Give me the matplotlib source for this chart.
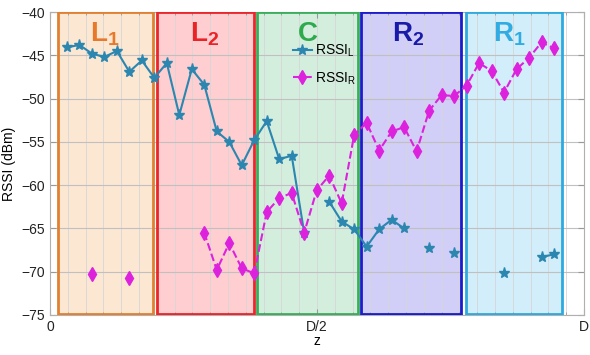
import numpy as np
import matplotlib
matplotlib.use("Agg")
import matplotlib.pyplot as plt
from matplotlib.patches import Rectangle
from matplotlib.ticker import MultipleLocator

plt.rcParams['font.family'] = ['Liberation Sans', 'DejaVu Sans']
plt.rcParams['mathtext.fontset'] = 'custom'
plt.rcParams['mathtext.rm'] = 'Liberation Sans'
plt.rcParams['mathtext.it'] = 'Liberation Sans:italic'
plt.rcParams['mathtext.bf'] = 'Liberation Sans:bold'

nan = np.nan

# Corridor length and sampling positions along z
D = 42.75
z = 1.35 + np.arange(40)

# Received signal strength from the left and right anchors (dBm)
rssi_left = [-44.1, -43.8, -44.8, -45.2, -44.5, -46.9, -45.6, -47.6, -45.9, -51.9,
             -46.6, -48.4, -53.8, -55.0, -57.7, -54.8, -52.6, -57.0, -56.6, -65.5,
             nan, -61.9, -64.2, -65.1, -67.1, -65.1, -64.0, -65.0, nan, -67.3,
             nan, -67.8, nan, nan, nan, -70.1, nan, nan, -68.3, -68.0]
rssi_right = [nan, nan, -70.3, nan, nan, -70.7, nan, nan, nan, nan,
              nan, -65.5, -69.8, -66.7, -69.6, -70.2, -63.1, -61.5, -60.9, -65.5,
              -60.6, -58.9, -62.1, -54.2, -52.8, -56.0, -53.8, -53.3, -56.1, -51.4,
              -49.6, -49.7, -48.5, -45.9, -46.8, -49.3, -46.6, -45.3, -43.5, -44.2]

# Zones: name, z-start, z-end, fill, edge, label colour, label position
zone_names = [r'$\mathbf{L_1}$', r'$\mathbf{L_2}$', r'$\mathbf{C}$', r'$\mathbf{R_2}$', r'$\mathbf{R_1}$']
zone_start = [0.66, 8.59, 16.55, 24.88, 33.28]
zone_end = [8.22, 16.33, 24.68, 32.91, 40.97]
zone_fill = ['#fce3cc', '#ffc6c8', '#cdebd9', '#c9c6f6', '#c9ebfa']
zone_edge = ['#e08030', '#e8262c', '#3aae5c', '#1c1ccc', '#2eaade']
zone_text = ['#e8782a', '#ec2226', '#2caa4c', '#1a1aa8', '#30ace2']
zone_label_z = [4.4, 12.4, 20.6, 28.7, 36.8]

fig = plt.figure(figsize=(5.9, 3.55), dpi=100)
ax = fig.add_axes([50/590, 40/355, 534/590, 303/355])

ax.set_xlim(0, D)
ax.set_ylim(-75, -40)

for name, x0, x1, fc, ec, tc, lz in zip(zone_names, zone_start, zone_end,
                                         zone_fill, zone_edge, zone_text, zone_label_z):
    ax.add_patch(Rectangle((x0, -74.85), x1 - x0, 34.8, facecolor=fc, edgecolor='none',
                           alpha=0.85, zorder=0.5))
    ax.add_patch(Rectangle((x0, -74.85), x1 - x0, 34.8, facecolor='none', edgecolor=ec,
                           linewidth=2.0, zorder=3))
    ax.text(lz, -43.4, name, color=tc, fontsize=20, ha='center', va='baseline', zorder=4)

ax.plot(z, rssi_left, '-', color='#2b86b0', marker='*', markersize=8, linewidth=1.5,
        label=r'RSSI$_\mathrm{L}$', zorder=5)
ax.plot(z, rssi_right, '--', color='#dd22dd', marker='d', markersize=7.5, linewidth=1.5,
        label=r'RSSI$_\mathrm{R}$', zorder=5)

ax.set_yticks(np.arange(-75, -39, 5))
ax.set_xticks([0, D / 2, D])
ax.set_xticklabels(['0', 'D/2', 'D'])
ax.xaxis.set_minor_locator(MultipleLocator(D / 30))
ax.tick_params(axis='both', which='both', direction='in', top=True, right=True,
               labelsize=10, colors='#999999', labelcolor='#222222')
ax.tick_params(which='major', length=4)
ax.tick_params(which='minor', length=2.5)
ax.grid(True, which='major', axis='y', color='#c0c0c0', linewidth=0.8, zorder=0)
ax.grid(True, which='both', axis='x', color='#d6d6d6', linewidth=0.6, zorder=0)
ax.set_axisbelow(True)
for sp in ax.spines.values():
    sp.set_color('#b0b0b0')

ax.set_xlabel('z', fontsize=10, labelpad=0)
ax.set_ylabel('RSSI (dBm)', fontsize=10, labelpad=4)

leg = ax.legend(loc='upper left', bbox_to_anchor=(0.444, 0.917), borderaxespad=0,
                fontsize=10, handlelength=1.4, handletextpad=0.2, labelspacing=0.8,
                fancybox=False, framealpha=0.0, edgecolor='#888888',
                borderpad=0.4)
leg.get_frame().set_linewidth(0.8)
leg.set_zorder(6)

fig.savefig('out.png', dpi=100)
